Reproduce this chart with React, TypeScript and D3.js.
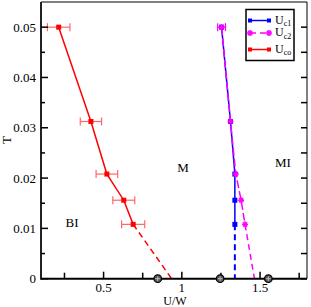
import React from "react";
import * as d3 from "d3";

const tempsCo = [0.05, 0.03125, 0.0208, 0.0156, 0.0108];
const uco = [0.213, 0.419, 0.521, 0.629, 0.689];
const ucoErr = [0.072, 0.068, 0.069, 0.07, 0.074];
const ucoZero = 0.935;

const tempsC = [0.05, 0.03125, 0.0208, 0.0156, 0.0108];
const uc1 = [1.254, 1.311, 1.339, 1.339, 1.339];
const uc1Zero = 1.339;
const uc2 = [1.254, 1.311, 1.345, 1.379, 1.404];
const uc2Err = [0.025, 0, 0, 0, 0];
const uc2Zero = 1.464;

const zeroPoints = [0.846, 1.245, 1.553];

const xMajor = [0.5, 1, 1.5];
const xMinor = [0.25, 0.75, 1.25, 1.75];
const yMajor = [0, 0.01, 0.02, 0.03, 0.04, 0.05];
const yMinor = [0.005, 0.015, 0.025, 0.035, 0.045];
const yLabels = ["0", "0.01", "0.02", "0.03", "0.04", "0.05"];
const xLabels = ["0.5", "1", "1.5"];

const W = 311, H = 307;
const L = 41, R = 307, T = 2, B = 278.7;
const font = "'Liberation Serif', 'Times New Roman', serif";

function Star({ x, y, c }: { x: number; y: number; c: string }) {
  const s = 3;
  return (
    <g stroke={c} strokeWidth={1.5}>
      <line x1={x - s} x2={x + s} y1={y} y2={y} />
      <line x1={x} x2={x} y1={y - s} y2={y + s} />
      <line x1={x - s * 0.7} x2={x + s * 0.7} y1={y - s * 0.7} y2={y + s * 0.7} />
      <line x1={x - s * 0.7} x2={x + s * 0.7} y1={y + s * 0.7} y2={y - s * 0.7} />
    </g>
  );
}

export default function App() {
  const x = d3.scaleLinear().domain([0.1, 1.8]).range([L, R]);
  const y = d3.scaleLinear().domain([0, 0.055]).range([B, T]);
  const line = d3.line<[number, number]>().x((d) => x(d[0])).y((d) => y(d[1]));

  const coPts: [number, number][] = uco.map((u, i) => [u, tempsCo[i]]);
  const c1Pts: [number, number][] = uc1.map((u, i) => [u, tempsC[i]]);
  const c2Pts: [number, number][] = uc2.map((u, i) => [u, tempsC[i]]);
  const blue = "#0000ff", mag = "#ff00ff", red = "#ff0000";
  const ts = { fontFamily: font };

  return (
    <div style={{ position: "absolute", left: 0, top: 0 }}>
      <svg width={W} height={H} style={{ display: "block", background: "#fff", fontFamily: font }}>
        <rect x={0} y={0} width={W} height={H} fill="#fff" />
        {/* blue Uc1 */}
        <path d={line(c1Pts) || ""} fill="none" stroke={blue} strokeWidth={1.5} />
        <path d={line([c1Pts[c1Pts.length - 1], [uc1Zero, 0]]) || ""} fill="none" stroke={blue} strokeWidth={2} strokeDasharray="6,4" />
        {c1Pts.map((p, i) => (
          <rect key={i} x={x(p[0]) - 2.5} y={y(p[1]) - 2.5} width={5} height={5} fill={blue} />
        ))}
        {/* magenta Uc2 */}
        <path d={line(c2Pts) || ""} fill="none" stroke={mag} strokeWidth={1.5} strokeDasharray={"8,3"} />
        <path d={line([c2Pts[c2Pts.length - 1], [uc2Zero, 0]]) || ""} fill="none" stroke={mag} strokeWidth={1.5} strokeDasharray="6,4" />
        {c2Pts.map((p, i) => (
          <g key={i}>
            {uc2Err[i] > 0 && (
              <g stroke={mag} strokeWidth={1.2}>
                <line x1={x(p[0] - uc2Err[i])} x2={x(p[0] + uc2Err[i])} y1={y(p[1])} y2={y(p[1])} />
                <line x1={x(p[0] - uc2Err[i])} x2={x(p[0] - uc2Err[i])} y1={y(p[1]) - 4} y2={y(p[1]) + 4} />
                <line x1={x(p[0] + uc2Err[i])} x2={x(p[0] + uc2Err[i])} y1={y(p[1]) - 4} y2={y(p[1]) + 4} />
              </g>
            )}
            <Star x={x(p[0])} y={y(p[1])} c={mag} />
          </g>
        ))}
        {/* red Uco */}
        <path d={line(coPts) || ""} fill="none" stroke={red} strokeWidth={1.5} />
        <path d={line([coPts[coPts.length - 1], [ucoZero, 0]]) || ""} fill="none" stroke={red} strokeWidth={1.5} strokeDasharray="6,4" />
        {coPts.map((p, i) => (
          <g key={i}>
            <g stroke="#ff6666" strokeWidth={1.2}>
              <line x1={x(p[0] - ucoErr[i])} x2={x(p[0] + ucoErr[i])} y1={y(p[1])} y2={y(p[1])} />
              <line x1={x(p[0] - ucoErr[i])} x2={x(p[0] - ucoErr[i])} y1={y(p[1]) - 4} y2={y(p[1]) + 4} />
              <line x1={x(p[0] + ucoErr[i])} x2={x(p[0] + ucoErr[i])} y1={y(p[1]) - 4} y2={y(p[1]) + 4} />
            </g>
            <rect x={x(p[0]) - 2.5} y={y(p[1]) - 2.5} width={5} height={5} fill={red} />
          </g>
        ))}

        {/* frame */}
        <line x1={L} x2={R} y1={T} y2={T} stroke="#000" strokeWidth={1} />
        <line x1={R} x2={R} y1={T} y2={B} stroke="#000" strokeWidth={1} />
        <line x1={L} x2={R} y1={B} y2={B} stroke="#000" strokeWidth={2} />
        <line x1={L} x2={L} y1={T} y2={B + 1} stroke="#222" strokeWidth={2} />

        {/* y ticks */}
        {yMajor.map((v, i) => (
          <g key={"ym" + i}>
            <line x1={L} x2={L + 7} y1={y(v)} y2={y(v)} stroke="#000" strokeWidth={1.5} />
            <line x1={R} x2={R - 6} y1={y(v)} y2={y(v)} stroke="#000" strokeWidth={1.5} />
            <text x={36} y={y(v) + 4.5} fontSize={13} textAnchor="end" fill="#000" style={ts}>{yLabels[i]}</text>
          </g>
        ))}
        {yMinor.map((v, i) => (
          <g key={"yn" + i}>
            <line x1={L} x2={L + 4} y1={y(v)} y2={y(v)} stroke="#000" strokeWidth={1.5} />
            <line x1={R} x2={R - 6} y1={y(v)} y2={y(v)} stroke="#000" strokeWidth={1.5} />
          </g>
        ))}
        {/* x ticks */}
        {xMajor.map((v, i) => (
          <g key={"xm" + i}>
            <line x1={x(v)} x2={x(v)} y1={B} y2={B - 7} stroke="#000" strokeWidth={1.5} />
            <text x={x(v)} y={291.5} fontSize={13} textAnchor="middle" fill="#000" style={ts}>{xLabels[i]}</text>
          </g>
        ))}
        {xMinor.map((v, i) => (
          <line key={"xn" + i} x1={x(v)} x2={x(v)} y1={B} y2={B - 6} stroke="#000" strokeWidth={1.5} />
        ))}

        {/* zero circles */}
        {zeroPoints.map((u, i) => (
          <g key={"z" + i}>
            <circle cx={x(u)} cy={y(0)} r={3.8} fill="#555" stroke="#000" strokeWidth={1.2} />
            <line x1={x(u) - 2.5} x2={x(u) + 2.5} y1={y(0)} y2={y(0)} stroke="#ccc" strokeWidth={0.8} />
            <line x1={x(u)} x2={x(u)} y1={y(0) - 2.5} y2={y(0) + 2.5} stroke="#ccc" strokeWidth={0.8} />
          </g>
        ))}

        {/* region labels */}
        <text x={183} y={172} fontSize={13} textAnchor="middle" style={ts}>M</text>
        <text x={283} y={167} fontSize={13} textAnchor="middle" style={ts}>MI</text>
        <text x={72} y={227} fontSize={13} textAnchor="middle" style={ts}>BI</text>

        {/* axis titles */}
        <text x={175} y={305} fontSize={12} textAnchor="middle" style={ts}>U/W</text>
        <text x={0} y={0} fontSize={13} textAnchor="middle" transform="translate(11,140) rotate(-90)" style={ts}>T</text>

        {/* legend */}
        <rect x={246} y={9.5} width={48} height={51} fill="#fff" stroke="#000" strokeWidth={1.5} />
        {[
          { c: blue, dash: undefined, mk: "sq", sub: "c1", yy: 20.5 },
          { c: mag, dash: "6,4", mk: "star", sub: "c2", yy: 33 },
          { c: red, dash: undefined, mk: "sq", sub: "co", yy: 49.5 },
        ].map((e, i) => (
          <g key={"lg" + i}>
            <line x1={250} x2={269} y1={e.yy} y2={e.yy} stroke={e.c} strokeWidth={1.5} strokeDasharray={e.dash} />
            {e.mk === "sq" ? (
              <>
                <rect x={248} y={e.yy - 2} width={4} height={4} fill={e.c} />
                <rect x={267} y={e.yy - 2} width={4} height={4} fill={e.c} />
              </>
            ) : (
              <>
                <Star x={250} y={e.yy} c={e.c} />
                <Star x={269} y={e.yy} c={e.c} />
              </>
            )}
            <text x={275} y={e.yy + 3} fontSize={12} style={ts}>
              U<tspan fontSize={8} dy={2.5}>{e.sub}</tspan>
            </text>
          </g>
        ))}
      </svg>
    </div>
  );
}
